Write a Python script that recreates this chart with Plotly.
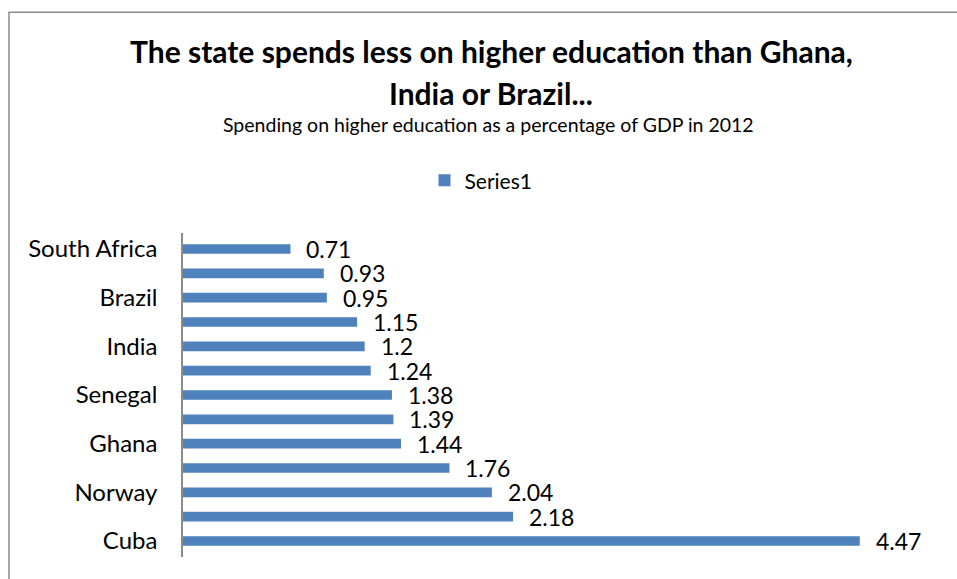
import plotly.graph_objects as go

# Categories top-to-bottom (hidden labels are not shown on the axis in the reference)
countries = ["South Africa", "Argentina", "Brazil", "Malaysia", "India", "USA", "Senegal",
             "Kenya", "Ghana", "Finland", "Norway", "Denmark", "Cuba"]
values = [0.71, 0.93, 0.95, 1.15, 1.2, 1.24, 1.38, 1.39, 1.44, 1.76, 2.04, 2.18, 4.47]
labels = ["0.71", "0.93", "0.95", "1.15", "1.2", "1.24", "1.38", "1.39", "1.44", "1.76", "2.04", "2.18", "4.47"]
shown_ticks = ["South Africa", "Brazil", "India", "Senegal", "Ghana", "Norway", "Cuba"]

W, H = 957, 579
L, R, T, B = 183, 17, 232.5, 21.5
PH = H - T - B
PW = W - L - R

def py(p):
    return (H - B - p) / PH

def px(p):
    return (p - L) / PW

FONT = "Lato, Carlito, Calibri, sans-serif"

fig = go.Figure()
fig.add_trace(go.Bar(
    y=countries, x=values, orientation="h", name="Series1",
    marker=dict(color="#4F81BD", line=dict(width=0)),
    showlegend=True,
))

annotations = []
for c, v, t in zip(countries, values, labels):
    annotations.append(dict(x=v, y=c, xref="x", yref="y", text=t, showarrow=False,
                            xanchor="left", yanchor="middle", xshift=14, yshift=0,
                            font=dict(family=FONT, size=23, color="#000000")))

annotations += [
    dict(x=px(491), y=py(50), xref="paper", yref="paper", showarrow=False,
         text="<b>The state spends less on higher education than Ghana,</b>",
         xanchor="center", yanchor="middle", font=dict(family=FONT, size=30, color="#000")),
    dict(x=px(491), y=py(92), xref="paper", yref="paper", showarrow=False,
         text="<b>India or Brazil...</b>",
         xanchor="center", yanchor="middle", font=dict(family=FONT, size=30, color="#000")),
    dict(x=px(488), y=py(124), xref="paper", yref="paper", showarrow=False,
         text="Spending on higher education as a percentage of GDP in 2012",
         xanchor="center", yanchor="middle", font=dict(family=FONT, size=19.5, color="#000")),
]

fig.update_layout(
    width=W, height=H,
    margin=dict(l=L, r=R, t=T, b=B, pad=0),
    paper_bgcolor="white", plot_bgcolor="white",
    bargap=0.6,
    font=dict(family=FONT, color="#000"),
    legend=dict(orientation="h", x=px(481), y=py(180), xanchor="center", yanchor="middle",
                font=dict(family=FONT, size=21, color="#000"), bgcolor="rgba(0,0,0,0)",
                itemwidth=30),
    annotations=annotations,
    shapes=[dict(type="rect", xref="paper", yref="paper",
                 x0=px(9), x1=px(975), y0=py(600), y1=py(11),
                 line=dict(color="#8C8C8C", width=1.5), fillcolor="rgba(0,0,0,0)", layer="below")],
    xaxis=dict(range=[0, 5], showgrid=False, zeroline=False, showticklabels=False,
               showline=False, ticks=""),
    yaxis=dict(autorange="reversed", tickmode="array", tickvals=shown_ticks,
               showgrid=False, zeroline=False, showline=True, linecolor="#8C8C8C", linewidth=1.5,
               ticks="", ticklabelstandoff=19,
               tickfont=dict(family=FONT, size=24, color="#000")),
)

fig.write_html("out.html")
